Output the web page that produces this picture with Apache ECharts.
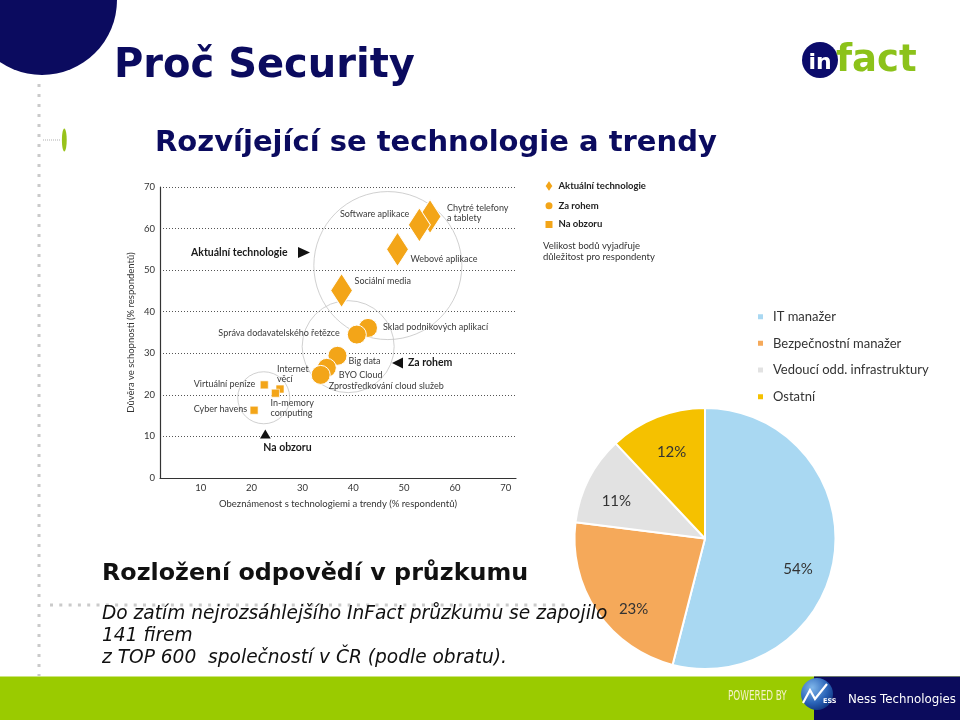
<!DOCTYPE html>
<html><head><meta charset="utf-8">
<script src="https://cdn.jsdelivr.net/npm/echarts@6/dist/echarts.min.js"></script>
<style>html,body{margin:0;padding:0;background:#fff}#c{width:960px;height:720px}</style>
</head><body><div id="c"></div>
<script>
// ---------- data ----------
const currentNames = ['Chytré telefony\na tablety', 'Software aplikace', 'Webové aplikace', 'Sociální media'];
const currentX = [55.1, 53.0, 48.7, 37.7];
const currentY = [62.9, 60.9, 55.0, 45.1];

const cornerNames = ['Sklad podnikových aplikací', 'Správa dodavatelského řetězce', 'Big data', 'BYO Cloud', 'Zprostředkování cloud služeb'];
const cornerX = [42.9, 40.7, 36.9, 34.8, 33.6];
const cornerY = [36.1, 34.5, 29.4, 26.5, 24.8];

const horizonNames = ['Internet\nvěcí', 'Virtuální peníze', 'In-memory\ncomputing', 'Cyber havens'];
const horizonX = [25.6, 22.5, 24.7, 20.5];
const horizonY = [21.4, 22.4, 20.4, 16.3];

const groupX = [46.8, 39.0, 22.4];
const groupY = [51.1, 31.6, 19.3];

const xTickValues = [10, 20, 30, 40, 50, 60, 70];
const seriesNames = ['Aktuální technologie', 'Za rohem', 'Na obzoru'];

const pieNames = ['IT manažer', 'Bezpečnostní manažer', 'Vedoucí odd. infrastruktury', 'Ostatní'];
const pieValues = [54, 23, 11, 12];

// ---------- styles ----------
const ORANGE = '#F3A518';
const NAVY = '#0b0b5f';
const pieColors = ['#A9D8F2', '#F5A95A', '#E2E2E2', '#F5C100'];
const groupSizes = [148, 92, 52];
const PIE_CX = 705, PIE_CY = 538.5, PIE_R = 130.5;
const pieLabelNudge = [[-3.5, 18.6], [9, 16], [-2, 6.5], [2.4, 4]];
const labelStyle = {
  'Chytré telefony\na tablety': [17, -3, 'left'],
  'Software aplikace': [-10, -11, 'right'],
  'Webové aplikace': [13, 10, 'left'],
  'Sociální media': [13, -9, 'left'],
  'Sklad podnikových aplikací': [15, -1, 'left'],
  'Správa dodavatelského řetězce': [-17, -1, 'right'],
  'Big data': [11, 5, 'left'],
  'BYO Cloud': [12, 7, 'left'],
  'Zprostředkování cloud služeb': [8, 11, 'left'],
  'Internet\nvěcí': [-3, -15, 'left'],
  'Virtuální peníze': [-9, -1, 'right'],
  'In-memory\ncomputing': [-5, 15, 'left'],
  'Cyber havens': [-7, -1, 'right']
};
const FONT = 'Lato';

function item(name, x, y) {
  const s = labelStyle[name];
  return {
    name: name, value: [x, y],
    label: { show: true, formatter: '{b}', position: ['50%', '50%'], offset: [s[0], s[1]], align: s[2], verticalAlign: 'middle',
      fontFamily: FONT, fontSize: 9, lineHeight: 10, color: '#3a3a3a' }
  };
}

const chart = echarts.init(document.getElementById('c'), null, { renderer: 'canvas' });

const graphics = [
  // top-left navy disc
  { type: 'circle', z: 1, shape: { cx: 42, cy: 0, r: 75 }, style: { fill: NAVY } },
  // dotted vertical guide
  { type: 'line', z: 1, shape: { x1: 39, y1: 84, x2: 39, y2: 676 }, style: { stroke: '#cacaca', lineWidth: 3, lineDash: [3, 7] } },
  // dotted horizontal guide
  { type: 'line', z: 1, shape: { x1: 50, y1: 605, x2: 568, y2: 605 }, style: { stroke: '#cacaca', lineWidth: 3, lineDash: [3, 6.3] } },
  // small dotted line + green ellipse
  { type: 'line', z: 1, shape: { x1: 43, y1: 140, x2: 61, y2: 140 }, style: { stroke: '#b0b0b0', lineWidth: 1, lineDash: [1, 1] } },
  { type: 'ellipse', z: 1, shape: { cx: 64.3, cy: 140, rx: 2.4, ry: 11.5 }, style: { fill: '#98C21A' } },
  // titles
  { type: 'text', z: 100, x: 114, y: 67, style: { text: 'Proč Security', fontFamily: 'DejaVu Sans', fontWeight: 'bold', fontSize: 40, fill: NAVY, verticalAlign: 'middle' } },
  { type: 'text', z: 100, x: 155, y: 143, style: { text: 'Rozvíjející se technologie a trendy', fontFamily: 'DejaVu Sans', fontWeight: 'bold', fontSize: 29, fill: NAVY, verticalAlign: 'middle' } },
  { type: 'text', z: 100, x: 102, y: 574, style: { text: 'Rozložení odpovědí v průzkumu', fontFamily: 'DejaVu Sans', fontWeight: 'bold', fontSize: 23.8, fill: '#111', verticalAlign: 'middle' } },
  { type: 'text', z: 100, x: 102, y: 614, style: { text: 'Do zatím nejrozsáhlejšího InFact průzkumu se zapojilo', fontFamily: 'DejaVu Sans', fontStyle: 'italic', fontSize: 18.6, fill: '#111', verticalAlign: 'middle' } },
  { type: 'text', z: 100, x: 102, y: 636.5, style: { text: '141 firem', fontFamily: 'DejaVu Sans', fontStyle: 'italic', fontSize: 18.6, fill: '#111', verticalAlign: 'middle' } },
  { type: 'text', z: 100, x: 102, y: 658, style: { text: 'z TOP 600  společností v ČR (podle obratu).', fontFamily: 'DejaVu Sans', fontStyle: 'italic', fontSize: 18.6, fill: '#111', verticalAlign: 'middle' } },
  // infact logo
  { type: 'circle', z: 100, shape: { cx: 820, cy: 60, r: 18 }, style: { fill: '#0b0b6b' } },
  { type: 'text', z: 101, x: 820, y: 63, style: { text: 'in', fontFamily: 'DejaVu Sans', fontWeight: 'bold', fontSize: 22, fill: '#fff', align: 'center', verticalAlign: 'middle' } },
  { type: 'text', z: 100, x: 836, y: 61, style: { text: 'fact', fontFamily: 'DejaVu Sans', fontWeight: 'bold', fontSize: 37, fill: '#8CC21A', verticalAlign: 'middle' } },
  // scatter annotations
  { type: 'text', z: 100, x: 191, y: 252.5, style: { text: 'Aktuální technologie', fontFamily: FONT, fontWeight: 'bold', fontSize: 10.5, fill: '#1a1a1a', verticalAlign: 'middle' } },
  { type: 'polygon', z: 100, shape: { points: [[298, 247], [310, 252.5], [298, 258]] }, style: { fill: '#111' } },
  { type: 'text', z: 100, x: 408, y: 363, style: { text: 'Za rohem', fontFamily: FONT, fontWeight: 'bold', fontSize: 10.5, fill: '#1a1a1a', verticalAlign: 'middle' } },
  { type: 'polygon', z: 100, shape: { points: [[403, 357.5], [392, 363], [403, 368.5]] }, style: { fill: '#111' } },
  { type: 'text', z: 100, x: 287.5, y: 448, style: { text: 'Na obzoru', fontFamily: FONT, fontWeight: 'bold', fontSize: 10.5, fill: '#1a1a1a', align: 'center', verticalAlign: 'middle' } },
  { type: 'polygon', z: 100, shape: { points: [[260, 438.5], [265.3, 429.5], [270.7, 438.5]] }, style: { fill: '#111' } },
  { type: 'text', z: 100, x: 543, y: 251.5, style: { text: 'Velikost bodů vyjadřuje\ndůležitost pro respondenty', fontFamily: FONT, fontSize: 9.5, lineHeight: 11.3, fill: '#333', verticalAlign: 'middle' } },
  // footer
  { type: 'rect', z: 100, shape: { x: 0, y: 676.5, width: 960, height: 43.5 }, style: { fill: '#9ACB00' } },
  { type: 'rect', z: 101, shape: { x: 814, y: 676.5, width: 146, height: 43.5 }, style: { fill: '#0b0b5c' } },
  { type: 'circle', z: 102, shape: { cx: 817, cy: 694, r: 16 },
    style: { fill: { type: 'radial', x: 0.35, y: 0.3, r: 0.8, colorStops: [{ offset: 0, color: '#7fb6ea' }, { offset: 0.6, color: '#2a64b8' }, { offset: 1, color: '#0d2f7a' }] } } },
  { type: 'polyline', z: 103, shape: { points: [[803, 703], [810, 690], [815, 699], [827, 684]] }, style: { stroke: '#fff', lineWidth: 2.2, fill: null } },
  { type: 'text', z: 103, x: 823, y: 701, style: { text: 'ESS', fontFamily: 'DejaVu Sans', fontWeight: 'bold', fontSize: 6.5, fill: '#fff', verticalAlign: 'middle' } },
  { type: 'text', z: 102, x: 728, y: 696, scaleX: 0.7, originX: 0, originY: 0,
    style: { text: 'POWERED BY', fontFamily: "'DejaVu Sans Condensed', sans-serif", fontSize: 14, fill: '#F4F1C8', verticalAlign: 'middle' } },
  { type: 'text', z: 102, x: 848, y: 699.5, style: { text: 'Ness Technologies', fontFamily: 'DejaVu Sans', fontSize: 11.8, fill: '#fff', verticalAlign: 'middle' } }
];

const option = {
  animation: false,
  backgroundColor: '#fff',
  grid: { left: 160, top: 187, width: 356, height: 291 },
  xAxis: {
    type: 'value', min: 2, max: 72,
    axisLine: { show: true, lineStyle: { color: '#333', width: 1.2 } },
    axisTick: { show: false },
    splitLine: { show: false },
    axisLabel: { customValues: xTickValues, fontFamily: FONT, fontSize: 9.5, color: '#333', margin: 5 },
    name: 'Obeznámenost s technologiemi a trendy (% respondentů)',
    nameLocation: 'middle', nameGap: 21,
    nameTextStyle: { fontFamily: FONT, fontSize: 9.5, color: '#333' }
  },
  yAxis: {
    type: 'value', min: 0, max: 70, interval: 10,
    axisLine: { show: true, lineStyle: { color: '#333', width: 1.2 } },
    axisTick: { show: false },
    splitLine: { show: true, lineStyle: { color: '#555', width: 1, type: [1, 2] } },
    axisLabel: { fontFamily: FONT, fontSize: 9.5, color: '#333', margin: 5 },
    name: 'Důvěra ve schopnosti (% respondentů)',
    nameLocation: 'middle', nameGap: 24, nameRotate: 90,
    nameTextStyle: { fontFamily: FONT, fontSize: 9.5, color: '#333' }
  },
  legend: [
    {
      left: 543.5, top: 178.5, padding: 0, orient: 'vertical', itemWidth: 9, itemHeight: 13, itemGap: 5.7,
      selectedMode: false,
      textStyle: { fontFamily: FONT, fontWeight: 'bold', fontSize: 9.5, color: '#222', lineHeight: 13 },
      data: [
        { name: seriesNames[0], icon: 'diamond' },
        { name: seriesNames[1], icon: 'circle' },
        { name: seriesNames[2], icon: 'path://M0,0L10,0L10,10L0,10Z' }
      ]
    },
    {
      left: 756, top: 309.7, padding: 0, orient: 'vertical', itemWidth: 7, itemHeight: 7, itemGap: 12.67,
      selectedMode: false, icon: 'rect',
      textStyle: { fontFamily: FONT, fontSize: 13, color: '#333', lineHeight: 14, padding: [0, 0, 0, 4] },
      data: pieNames
    }
  ],
  graphic: graphics,
  series: [
    {
      name: 'groups', type: 'scatter', silent: true, z: 1,
      symbol: 'circle',
      symbolSize: function (v, p) { return groupSizes[p.dataIndex]; },
      itemStyle: { color: 'rgba(0,0,0,0)', borderColor: '#c4c4c4', borderWidth: 1 },
      data: groupX.map(function (x, i) { return [x, groupY[i]]; })
    },
    {
      name: seriesNames[0], type: 'scatter', z: 3,
      symbol: 'diamond', symbolSize: [22, 34],
      itemStyle: { color: ORANGE, borderColor: '#fff', borderWidth: 1, opacity: 1 },
      emphasis: { disabled: true },
      data: currentNames.map(function (n, i) { return item(n, currentX[i], currentY[i]); })
    },
    {
      name: seriesNames[1], type: 'scatter', z: 3,
      symbol: 'circle', symbolSize: 19,
      itemStyle: { color: ORANGE, borderColor: '#fff', borderWidth: 1, opacity: 1 },
      emphasis: { disabled: true },
      data: cornerNames.map(function (n, i) { return item(n, cornerX[i], cornerY[i]); })
    },
    {
      name: seriesNames[2], type: 'scatter', z: 3,
      symbol: 'rect', symbolSize: 8,
      itemStyle: { color: ORANGE, borderColor: '#fff', borderWidth: 0.6, opacity: 1 },
      emphasis: { disabled: true },
      data: horizonNames.map(function (n, i) { return item(n, horizonX[i], horizonY[i]); })
    },
    {
      name: 'Respondenti', type: 'pie', z: 2,
      center: [PIE_CX, PIE_CY], radius: PIE_R,
      startAngle: 90, clockwise: true,
      avoidLabelOverlap: false,
      emphasis: { disabled: true },
      itemStyle: { borderColor: '#fff', borderWidth: 2 },
      label: { show: true, position: 'inside', formatter: '{c}%', fontFamily: FONT, fontSize: 15, color: '#333', textBorderWidth: 0 },
      labelLine: { show: false },
      labelLayout: function (p) {
        const i = p.dataIndex;
        let total = 0, before = 0;
        pieValues.forEach(function (v, k) { total += v; if (k < i) before += v; });
        const mid = (90 - (before + pieValues[i] / 2) / total * 360) * Math.PI / 180;
        const r = PIE_R * 0.745;
        const n = pieLabelNudge[i];
        return { x: PIE_CX + r * Math.cos(mid) + n[0], y: PIE_CY - r * Math.sin(mid) + n[1], align: 'center', verticalAlign: 'middle' };
      },
      data: pieNames.map(function (n, i) { return { name: n, value: pieValues[i], itemStyle: { color: pieColors[i] } }; })
    }
  ]
};
chart.setOption(option);
</script>
</body></html>
